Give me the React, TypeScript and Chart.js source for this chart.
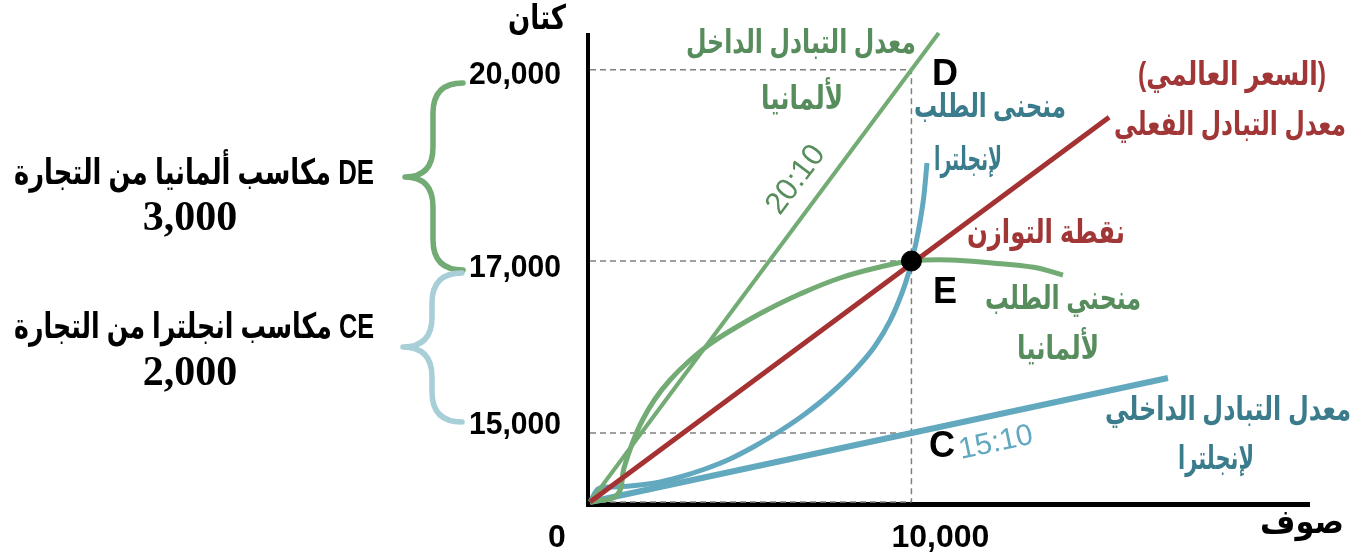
import React, { useEffect, useRef } from "react";
import { Chart, registerables } from "chart.js";

Chart.register(...registerables);

// ---------- data (schematic units: x = wool, y = cotton position) ----------
const X_MAX = 22400;
const Y_MAX = 21700;

const xTickValues = [0, 10000];
const xTickLabels = ["0", "10,000"];
const yTickValues = [20000, 11150, 3190];
const yTickLabels = ["20,000", "17,000", "15,000"];

// Germany domestic exchange rate 20:10
const germanyRateX = [0, 10850];
const germanyRateY = [0, 21700];
// Actual exchange rate (world price)
const worldRateX = [0, 16150];
const worldRateY = [0, 17800];
// England domestic exchange rate 15:10
const englandRateX = [0, 17980];
const englandRateY = [0, 5740];

// Germany demand (offer) curve
const germanyDemandX = [0, 840, 1058, 1307, 1618, 2022, 2489, 3049, 3733, 4511, 5444, 6533, 7777, 9022, 10000, 11200, 12500, 13800, 14715];
const germanyDemandY = [0, 324, 1573, 2684, 3748, 4766, 5645, 6478, 7311, 8051, 8838, 9624, 10364, 10873, 11150, 11200, 11060, 10860, 10500];

// England demand (offer) curve
const englandDemandX = [0, 249, 622, 1244, 2022, 2800, 3578, 4355, 5133, 5911, 6689, 7466, 8244, 8866, 9333, 9706, 9893, 10000, 10142, 10266, 10391, 10484];
const englandDemandY = [0, 602, 694, 740, 879, 1157, 1527, 1990, 2591, 3285, 4072, 4997, 6107, 7218, 8375, 9670, 10503, 11150, 11984, 12955, 14205, 15686];

// Key points
const pointD = { x: 10000, y: 20000 };
const pointE = { x: 10000, y: 11150 };
const pointC = { x: 10000, y: 3190 };

const xAxisTitle = "صوف";
const yAxisTitle = "كتان";

// ---------- styles ----------
const GREEN = "#72ab74";
const GREEN_TEXT = "#578d5c";
const BLUE = "#62a8be";
const BLUE_TEXT = "#3b7c8c";
const BLUE_BRACE = "#a8ced8";
const RED = "#a53232";
const RED_TEXT = "#a13636";
const DASH = "#808080";

const SANS = '"Liberation Sans", "DejaVu Sans", Arial, sans-serif';
const SERIF = '"Liberation Serif", "DejaVu Serif", serif';

const zip = (xs: number[], ys: number[]) => xs.map((x, i) => ({ x, y: ys[i] }));

type Label = {
  t: string;
  x: number;
  y: number;
  size: number;
  color: string;
  bold?: boolean;
  rtl?: boolean;
  maxW?: number;
  rot?: number;
  font?: string;
};

const AR = 33;
const labels: Label[] = [
  { t: yAxisTitle, x: 537, y: 20, size: 34, color: "#000", bold: true, rtl: true, maxW: 58 },
  { t: xAxisTitle, x: 1302, y: 524, size: 34, color: "#000", bold: true, rtl: true, maxW: 84 },
  { t: "D", x: 945, y: 75, size: 36, color: "#000", bold: true },
  { t: "E", x: 945, y: 293, size: 36, color: "#000", bold: true },
  { t: "C", x: 942, y: 447, size: 36, color: "#000", bold: true },
  { t: "معدل التبادل الداخل", x: 801, y: 44, size: AR, color: GREEN_TEXT, bold: true, rtl: true, maxW: 230 },
  { t: "لألمانيا", x: 802, y: 100, size: AR, color: GREEN_TEXT, bold: true, rtl: true, maxW: 82 },
  { t: "20:10", x: 796, y: 180, size: 31, color: GREEN_TEXT, rot: -53.3 },
  { t: "منحنى الطلب", x: 990, y: 108, size: AR, color: BLUE_TEXT, bold: true, rtl: true, maxW: 152 },
  { t: "لإنجلترا", x: 968, y: 161, size: AR, color: BLUE_TEXT, bold: true, rtl: true, maxW: 68 },
  { t: "(السعر العالمي)", x: 1232, y: 76, size: AR, color: RED_TEXT, bold: true, rtl: true, maxW: 188 },
  { t: "معدل التبادل الفعلي", x: 1230, y: 126, size: AR, color: RED_TEXT, bold: true, rtl: true, maxW: 232 },
  { t: "نقطة التوازن", x: 1046, y: 234, size: AR, color: RED_TEXT, bold: true, rtl: true, maxW: 158 },
  { t: "منحني الطلب", x: 1063, y: 300, size: AR, color: GREEN_TEXT, bold: true, rtl: true, maxW: 156 },
  { t: "لألمانيا", x: 1058, y: 350, size: AR, color: GREEN_TEXT, bold: true, rtl: true, maxW: 82 },
  { t: "معدل التبادل الداخلي", x: 1228, y: 411, size: AR, color: BLUE_TEXT, bold: true, rtl: true, maxW: 246 },
  { t: "لإنجلترا", x: 1216, y: 460, size: AR, color: BLUE_TEXT, bold: true, rtl: true, maxW: 76 },
  { t: "15:10", x: 996, y: 443, size: 30, color: BLUE, rot: -12 },
  { t: "DE مكاسب ألمانيا من التجارة", x: 194, y: 174, size: 35, color: "#000", bold: true, rtl: true, maxW: 360 },
  { t: "3,000", x: 190, y: 219, size: 42, color: "#000", bold: true, font: SERIF },
  { t: "CE مكاسب انجلترا من التجارة", x: 194, y: 328, size: 35, color: "#000", bold: true, rtl: true, maxW: 360 },
  { t: "2,000", x: 190, y: 374, size: 42, color: "#000", bold: true, font: SERIF },
];

// tick label placement (layout only)
const yTickLabelX = 515;
const yTickLabelNudge = [6, 7, -8];
const xTickLabelY = 538;
const xTickLabelNudge = [-33, 29];

type Brace = { color: string; xEnd: number; xSpine: number; xTip: number; yTop: number; yMid: number; yBot: number };
const braces: Brace[] = [
  { color: GREEN, xEnd: 463, xSpine: 433, xTip: 405, yTop: 83, yMid: 177, yBot: 270 },
  { color: BLUE_BRACE, xEnd: 462, xSpine: 432, xTip: 403, yTop: 273, yMid: 347, yBot: 422 },
];

const overlayPlugin = {
  id: "overlay",
  beforeDatasetsDraw(chart: any) {
    const { ctx, chartArea } = chart;
    ctx.save();
    ctx.strokeStyle = "#000";
    ctx.lineCap = "butt";
    ctx.lineWidth = 4;
    ctx.beginPath();
    ctx.moveTo(chartArea.left - 2, chartArea.top);
    ctx.lineTo(chartArea.left - 2, chartArea.bottom + 5);
    ctx.stroke();
    ctx.lineWidth = 5;
    ctx.beginPath();
    ctx.moveTo(chartArea.left - 4, chartArea.bottom + 2.5);
    ctx.lineTo(chartArea.right, chartArea.bottom + 2.5);
    ctx.stroke();
    ctx.restore();
  },
  afterDraw(chart: any) {
    const { ctx } = chart;
    const xs = chart.scales.x;
    const ys = chart.scales.y;
    ctx.save();
    for (const b of braces) {
      const r = 30;
      ctx.strokeStyle = b.color;
      ctx.lineWidth = 5.5;
      ctx.lineCap = "round";
      ctx.lineJoin = "round";
      ctx.beginPath();
      ctx.moveTo(b.xEnd, b.yTop);
      ctx.quadraticCurveTo(b.xSpine, b.yTop, b.xSpine, b.yTop + r);
      ctx.lineTo(b.xSpine, b.yMid - r);
      ctx.quadraticCurveTo(b.xSpine, b.yMid, b.xTip, b.yMid);
      ctx.quadraticCurveTo(b.xSpine, b.yMid, b.xSpine, b.yMid + r);
      ctx.lineTo(b.xSpine, b.yBot - r);
      ctx.quadraticCurveTo(b.xSpine, b.yBot, b.xEnd, b.yBot);
      ctx.stroke();
    }
    ctx.textAlign = "center";
    ctx.textBaseline = "middle";
    ctx.fillStyle = "#000";
    ctx.font = `bold 31px ${SANS}`;
    ctx.direction = "ltr";
    yTickValues.forEach((v, i) => {
      ctx.fillText(yTickLabels[i], yTickLabelX, ys.getPixelForValue(v) + yTickLabelNudge[i], 92);
    });
    ctx.font = `bold 32px ${SANS}`;
    xTickValues.forEach((v, i) => {
      ctx.fillText(xTickLabels[i], xs.getPixelForValue(v) + xTickLabelNudge[i], xTickLabelY, 108);
    });
    for (const l of labels) {
      ctx.save();
      ctx.fillStyle = l.color;
      ctx.font = `${l.bold ? "bold " : ""}${l.size}px ${l.font || SANS}`;
      ctx.direction = l.rtl ? "rtl" : "ltr";
      ctx.textAlign = "center";
      ctx.translate(l.x, l.y);
      if (l.rot) ctx.rotate((l.rot * Math.PI) / 180);
      if (l.maxW) ctx.fillText(l.t, 0, 0, l.maxW);
      else ctx.fillText(l.t, 0, 0);
      ctx.restore();
    }
    ctx.restore();
  },
};

export default function App() {
  const ref = useRef<HTMLCanvasElement | null>(null);
  useEffect(() => {
    document.body.style.margin = "0";
    const canvas = ref.current;
    if (!canvas) return;
    const dashStyle = {
      borderColor: DASH,
      borderWidth: 1.5,
      borderDash: [6, 4],
      pointRadius: 0,
      fill: false,
      clip: false as any,
    };
    const chart = new Chart(canvas, {
      type: "line",
      data: {
        datasets: [
          {
            type: "scatter",
            label: "E",
            data: [pointE],
            pointRadius: 10,
            pointBackgroundColor: "#000",
            pointBorderColor: "#000",
            showLine: false,
            clip: false as any,
          } as any,
          { label: "world", data: zip(worldRateX, worldRateY), borderColor: RED, borderWidth: 5, pointRadius: 0, clip: false as any },
          { label: "germanyDemand", data: zip(germanyDemandX, germanyDemandY), borderColor: GREEN, borderWidth: 5, pointRadius: 0, tension: 0.4, clip: false as any },
          { label: "germanyRate", data: zip(germanyRateX, germanyRateY), borderColor: GREEN, borderWidth: 4, pointRadius: 0, clip: false as any },
          { label: "englandDemand", data: zip(englandDemandX, englandDemandY), borderColor: BLUE, borderWidth: 5, pointRadius: 0, cubicInterpolationMode: "monotone", clip: false as any },
          { label: "englandRate", data: zip(englandRateX, englandRateY), borderColor: BLUE, borderWidth: 6, pointRadius: 0, clip: false as any },
          { label: "dD", data: [{ x: 0, y: pointD.y }, pointD, { x: pointD.x, y: 0 }], ...dashStyle },
          { label: "dE", data: [{ x: 0, y: pointE.y }, pointE], ...dashStyle },
          { label: "dC", data: [{ x: 0, y: pointC.y }, pointC], ...dashStyle },
          { label: "d0", data: [{ x: 0, y: 0 }, { x: pointD.x, y: 0 }], ...dashStyle },
        ] as any,
      },
      options: {
        responsive: false,
        animation: false,
        devicePixelRatio: 1,
        layout: { padding: { left: 590, right: 40, top: 33, bottom: 53 } },
        plugins: { legend: { display: false }, tooltip: { enabled: false } },
        elements: { line: { tension: 0 } },
        scales: {
          x: { type: "linear", min: 0, max: X_MAX, display: false },
          y: { type: "linear", min: 0, max: Y_MAX, display: false },
        },
      },
      plugins: [overlayPlugin],
    });
    return () => chart.destroy();
  }, []);
  return <canvas ref={ref} width={1350} height={555} style={{ display: "block" }} />;
}
